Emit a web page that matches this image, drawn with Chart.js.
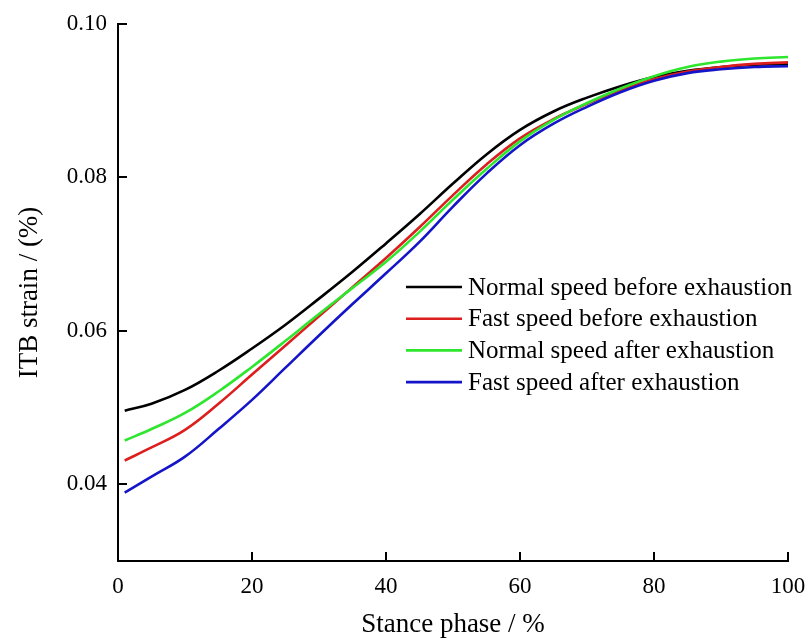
<!DOCTYPE html>
<html>
<head>
<meta charset="utf-8">
<script src="https://cdn.jsdelivr.net/npm/chart.js@4/dist/chart.umd.min.js"></script>
<style>
  html, body { margin: 0; padding: 0; background: #fff; }
  #wrap { width: 808px; height: 641px; }
</style>
</head>
<body>
<div id="wrap"><canvas id="itb-chart"></canvas></div>
<script>
// stance phase (%)
const phase = [1, 5, 10, 15, 20, 25, 30, 35, 40, 45, 50, 55, 60, 65, 70, 75, 80, 85, 90, 95, 100];

// ITB strain (%)
const normalBefore = [0.0496, 0.0505, 0.0523, 0.0548, 0.0577, 0.0608, 0.0642, 0.0677, 0.0714, 0.0752, 0.0792, 0.0830, 0.0862, 0.0886, 0.0904, 0.0919, 0.0931, 0.0939, 0.0944, 0.0947, 0.0948];
const fastBefore   = [0.0431, 0.0448, 0.0471, 0.0505, 0.0543, 0.0581, 0.0619, 0.0657, 0.0695, 0.0735, 0.0777, 0.0817, 0.0851, 0.0876, 0.0896, 0.0914, 0.0928, 0.0938, 0.0944, 0.0948, 0.0950];
const normalAfter  = [0.0457, 0.0472, 0.0493, 0.0521, 0.0553, 0.0587, 0.0622, 0.0656, 0.0690, 0.0729, 0.0771, 0.0811, 0.0847, 0.0875, 0.0897, 0.0916, 0.0932, 0.0944, 0.0951, 0.0955, 0.0957];
const fastAfter    = [0.0389, 0.0410, 0.0436, 0.0472, 0.0510, 0.0552, 0.0594, 0.0635, 0.0675, 0.0716, 0.0762, 0.0805, 0.0842, 0.0870, 0.0892, 0.0911, 0.0926, 0.0936, 0.0941, 0.0944, 0.0945];

const seriesNames = ['Normal speed before exhaustion', 'Fast speed before exhaustion',
                     'Normal speed after exhaustion', 'Fast speed after exhaustion'];
const seriesColors = ['#000000', '#dc1e1e', '#2ee62e', '#1414c8'];
const yTicks = [0.04, 0.06, 0.08, 0.10];
const xTicks = [0, 20, 40, 60, 80, 100];

const FONT = "'Liberation Serif', 'Times New Roman', serif";

const toPoints = ys => phase.map((x, i) => ({ x: x, y: ys[i] }));
const allSeries = [normalBefore, fastBefore, normalAfter, fastAfter];

const datasets = allSeries.map((ys, i) => ({
    label: seriesNames[i],
    data: toPoints(ys),
    borderColor: seriesColors[i],
    borderWidth: 2.6,
    pointRadius: 0,
    tension: 0.4,
    fill: false,
    order: 4 - i
}));

// inward tick marks + legend drawn inside the plot
const decorations = {
    id: 'decorations',
    afterDraw(chart) {
        const ctx = chart.ctx;
        const xs = chart.scales.x, ys = chart.scales.y;
        const area = chart.chartArea;
        ctx.save();
        ctx.strokeStyle = '#000';
        ctx.lineWidth = 2;
        yTicks.forEach(v => {
            const py = Math.round(ys.getPixelForValue(v));
            ctx.beginPath();
            ctx.moveTo(area.left, py);
            ctx.lineTo(area.left + 9, py);
            ctx.stroke();
        });
        xTicks.forEach(v => {
            const px = Math.round(xs.getPixelForValue(v));
            ctx.beginPath();
            ctx.moveTo(px, area.bottom);
            ctx.lineTo(px, area.bottom - 9);
            ctx.stroke();
        });

        // legend
        const lx = 406, ly = 287, row = 31.7;
        ctx.font = '25px ' + FONT;
        ctx.textBaseline = 'middle';
        ctx.textAlign = 'left';
        seriesNames.forEach((name, i) => {
            const y = ly + i * row;
            ctx.strokeStyle = seriesColors[i];
            ctx.lineWidth = 2.6;
            ctx.beginPath();
            ctx.moveTo(lx, y);
            ctx.lineTo(lx + 56, y);
            ctx.stroke();
            ctx.fillStyle = '#000';
            ctx.fillText(name, lx + 62, y + 1);
        });
        ctx.restore();
    }
};

const config = {
    type: 'line',
    data: { datasets },
    options: {
        responsive: true,
        maintainAspectRatio: false,
        animation: false,
        layout: { padding: { top: 24, right: 20, bottom: 0, left: 0 } },
        plugins: {
            legend: { display: false },
            tooltip: { enabled: false }
        },
        scales: {
            x: {
                type: 'linear',
                min: 0,
                max: 100,
                afterBuildTicks: s => { s.ticks = xTicks.map(v => ({ value: v })); },
                border: { display: true, color: '#000', width: 2 },
                grid: { display: false, drawTicks: false },
                ticks: { color: '#000', padding: 12, maxRotation: 0, font: { family: FONT, size: 23 } },
                title: { display: true, text: 'Stance phase / %', color: '#000', font: { family: FONT, size: 27 }, padding: { top: 0, bottom: 0 } },
                afterFit: s => { s.height = 80; s.paddingLeft = 0; s.paddingRight = 0; }
            },
            y: {
                type: 'linear',
                min: 0.03,
                max: 0.10,
                afterBuildTicks: s => { s.ticks = yTicks.map(v => ({ value: v })); },
                border: { display: true, color: '#000', width: 2 },
                grid: { display: false, drawTicks: false },
                ticks: { color: '#000', padding: 11, font: { family: FONT, size: 23 }, callback: v => v.toFixed(2) },
                title: { display: true, text: 'ITB strain / (%)', color: '#000', font: { family: FONT, size: 27 }, padding: { top: 14, bottom: 0 } },
                afterFit: s => { s.width = 118; s.paddingTop = 0; s.paddingBottom = 0; }
            }
        }
    },
    plugins: [decorations]
};

const itbChart = new Chart(document.getElementById('itb-chart'), config);
</script>
</body>
</html>
